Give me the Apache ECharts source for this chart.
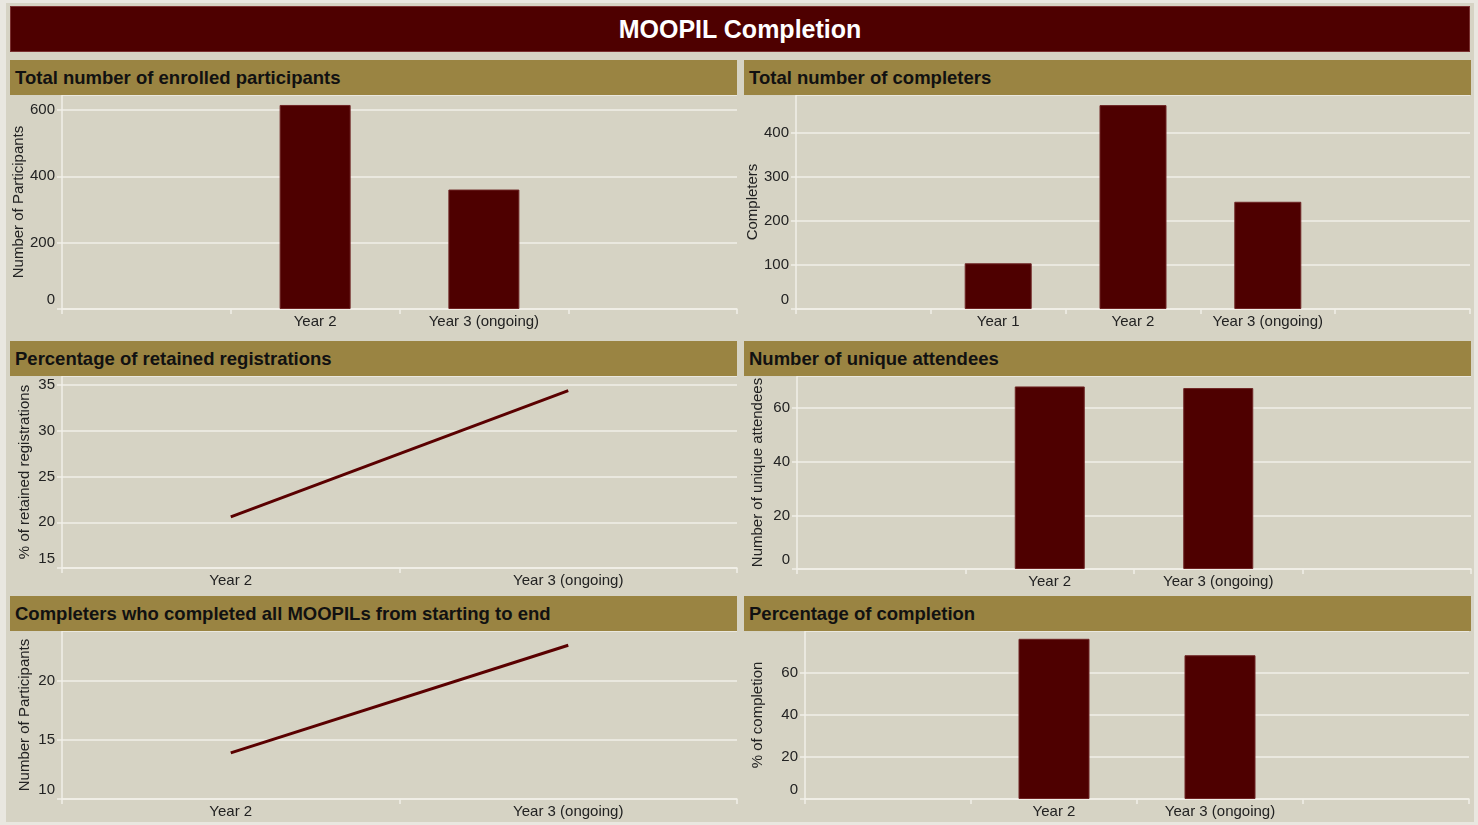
<!DOCTYPE html>
<html>
<head>
<meta charset="utf-8">
<script src="https://cdn.jsdelivr.net/npm/echarts@6/dist/echarts.min.js"></script>
<style>
  html, body { margin: 0; padding: 0; background: #e9e7e0; font-family: 'Liberation Sans', Arial, sans-serif; }
  .page { position: absolute; left: 6px; top: 3px; width: 1468px; height: 819px; background: #d6d3c4; }
  .title { position: absolute; left: 10px; top: 6px; width: 1460px; height: 46px; background: #4e0000;
    box-sizing: border-box; border: 1px solid #7a3030; color: #fff; font-weight: bold; font-size: 25px;
    line-height: 44px; text-align: center; z-index: 2; }
  .head { position: absolute; height: 35px; background: #9a8442; color: #111; font-weight: bold;
    font-size: 18.5px; line-height: 35px; padding-left: 5px; box-sizing: border-box; z-index: 2; }
  #chart { position: absolute; left: 0; top: 0; width: 1478px; height: 825px; z-index: 1; }
</style>
</head>
<body>
<div class="page"></div>
<div id="chart"></div>
<div class="title">MOOPIL Completion</div>
<div class="head" style="left:10px;top:60px;width:727px">Total number of enrolled participants</div>
<div class="head" style="left:744px;top:60px;width:727px">Total number of completers</div>
<div class="head" style="left:10px;top:341px;width:727px">Percentage of retained registrations</div>
<div class="head" style="left:744px;top:341px;width:727px">Number of unique attendees</div>
<div class="head" style="left:10px;top:596px;width:727px">Completers who completed all MOOPILs from starting to end</div>
<div class="head" style="left:744px;top:596px;width:727px">Percentage of completion</div>
<script>
// data
const enrolledCats = ['Year 2', 'Year 3 (ongoing)']
const enrolledVals = [615, 360]
const completerCats = ['Year 1', 'Year 2', 'Year 3 (ongoing)']
const completerVals = [104, 464, 244]
const retainedCats = ['Year 2', 'Year 3 (ongoing)']
const retainedVals = [20.6, 34.4]
const attendeeCats = ['Year 2', 'Year 3 (ongoing)']
const attendeeVals = [68.1, 67.5]
const allMoopilCats = ['Year 2', 'Year 3 (ongoing)']
const allMoopilVals = [13.9, 23.0]
const completionCats = ['Year 2', 'Year 3 (ongoing)']
const completionVals = [76, 68.2]

const barColor = '#4e0000'
const lineColor = '#5a0000'
const gridColor = '#f1efe8'
const textColor = '#222'

// bar panels have an empty slot on each side
const pad = arr => ['', ...arr, '']
const padVals = arr => [null, ...arr, null]

const myChart = echarts.init(document.getElementById('chart'))

// [left, right, top, bottom] in px
const grids = [
  [62, 741, 95, 516],
  [796, 8, 95, 516],
  [62, 741, 376, 257],
  [797, 7, 376, 256],
  [62, 741, 631, 26],
  [805, 9, 631, 26]
]

function xAxis(i, cats) {
  return {
    gridIndex: i,
    type: 'category',
    data: cats,
    boundaryGap: true,
    axisLine: { lineStyle: { color: gridColor, width: 1.5 } },
    axisTick: { show: true, length: 5, lineStyle: { color: gridColor, width: 1.5 } },
    axisLabel: { color: textColor, fontSize: 15, margin: 5, interval: 0 }
  }
}

function yAxis(i, name, min, max, interval, gap) {
  return {
    gridIndex: i,
    type: 'value',
    name: name,
    nameLocation: 'middle',
    nameRotate: 90,
    nameGap: gap,
    nameTextStyle: { color: textColor, fontSize: 15 },
    min: min,
    max: max,
    interval: interval,
    axisLine: { show: true, lineStyle: { color: gridColor, width: 1.5 } },
    axisTick: { show: true, length: 5, lineStyle: { color: gridColor, width: 1.5 } },
    axisLabel: {
      color: textColor,
      fontSize: 15,
      margin: 7,
      showMaxLabel: false,
      // lowest label sits a little above its gridline
      formatter: v => (v === min ? '{lo|' + v + '}' : String(v)),
      rich: { lo: { fontSize: 15, color: textColor, padding: [0, 0, 18, 0] } }
    },
    splitLine: { show: true, lineStyle: { color: gridColor, width: 1.5 } }
  }
}

function bar(i, vals, w) {
  return {
    type: 'bar',
    xAxisIndex: i,
    yAxisIndex: i,
    data: vals,
    barWidth: w,
    itemStyle: { color: barColor, borderColor: '#6e2424', borderWidth: 1 }
  }
}

function line(i, vals) {
  return {
    type: 'line',
    xAxisIndex: i,
    yAxisIndex: i,
    data: vals,
    symbol: 'none',
    lineStyle: { color: lineColor, width: 3 }
  }
}

const option = {
  animation: false,
  textStyle: { fontFamily: 'Liberation Sans, Arial, sans-serif' },
  grid: grids.map(g => ({ left: g[0], right: g[1], top: g[2], bottom: g[3], containLabel: false })),
  xAxis: [
    xAxis(0, pad(enrolledCats)),
    xAxis(1, pad(completerCats)),
    xAxis(2, retainedCats),
    xAxis(3, pad(attendeeCats)),
    xAxis(4, allMoopilCats),
    xAxis(5, pad(completionCats))
  ],
  yAxis: [
    yAxis(0, 'Number of Participants', 0, 645, 200, 36),
    yAxis(1, 'Completers', 0, 487, 100, 36),
    yAxis(2, '% of retained registrations', 15, 36, 5, 30),
    yAxis(3, 'Number of unique attendees', 0, 72, 20, 32),
    yAxis(4, 'Number of Participants', 10, 24.2, 5, 30),
    yAxis(5, '% of completion', 0, 79.7, 20, 40)
  ],
  series: [
    bar(0, padVals(enrolledVals), 71),
    bar(1, padVals(completerVals), 67),
    line(2, retainedVals),
    bar(3, padVals(attendeeVals), 70),
    line(4, allMoopilVals),
    bar(5, padVals(completionVals), 71)
  ]
}

myChart.setOption(option)
window.onresize = function () {
  myChart.resize()
}
</script>
</body>
</html>
